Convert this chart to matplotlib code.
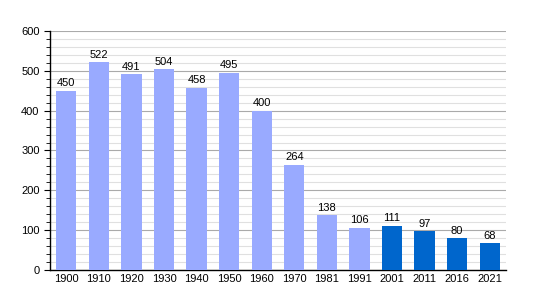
import matplotlib.pyplot as plt
from matplotlib.ticker import MultipleLocator

plt.rcParams['font.family'] = ['Liberation Sans', 'DejaVu Sans']

years = ['1900', '1910', '1920', '1930', '1940', '1950', '1960', '1970',
         '1981', '1991', '2001', '2011', '2016', '2021']
population = [450, 522, 491, 504, 458, 495, 400, 264, 138, 106, 111, 97, 80, 68]
dark_from = 10  # bars from 2001 on are drawn darker

colors = ['#99aaff' if i < dark_from else '#0066cc' for i in range(len(years))]

fig = plt.figure(figsize=(5.35, 3.0), dpi=100)
ax = fig.add_axes([0.0935, 0.1, 0.8523, 0.7967])

x = range(len(years))
ax.bar(x, population, width=0.62, color=colors, zorder=3)
for xi, v in zip(x, population):
    ax.text(xi, v + 6, str(v), ha='center', va='bottom', fontsize=8, zorder=4)

ax.set_xlim(-0.5, len(years) - 0.5)
ax.set_ylim(0, 600)
ax.set_xticks(list(x))
ax.set_xticklabels(years, fontsize=8)
ax.yaxis.set_major_locator(MultipleLocator(100))
ax.yaxis.set_minor_locator(MultipleLocator(20))
ax.tick_params(axis='y', labelsize=8, length=4, direction='out')
ax.tick_params(axis='y', which='minor', length=3)
ax.tick_params(axis='x', length=0, pad=3)

ax.grid(axis='y', which='major', color='#aaaaaa', linewidth=0.8, zorder=0)
ax.grid(axis='y', which='minor', color='#e0e0e0', linewidth=0.8, zorder=0)

for s in ['top', 'right']:
    ax.spines[s].set_visible(False)
ax.spines['left'].set_linewidth(1.0)
ax.spines['bottom'].set_linewidth(1.0)

fig.savefig('out.png', dpi=100)
